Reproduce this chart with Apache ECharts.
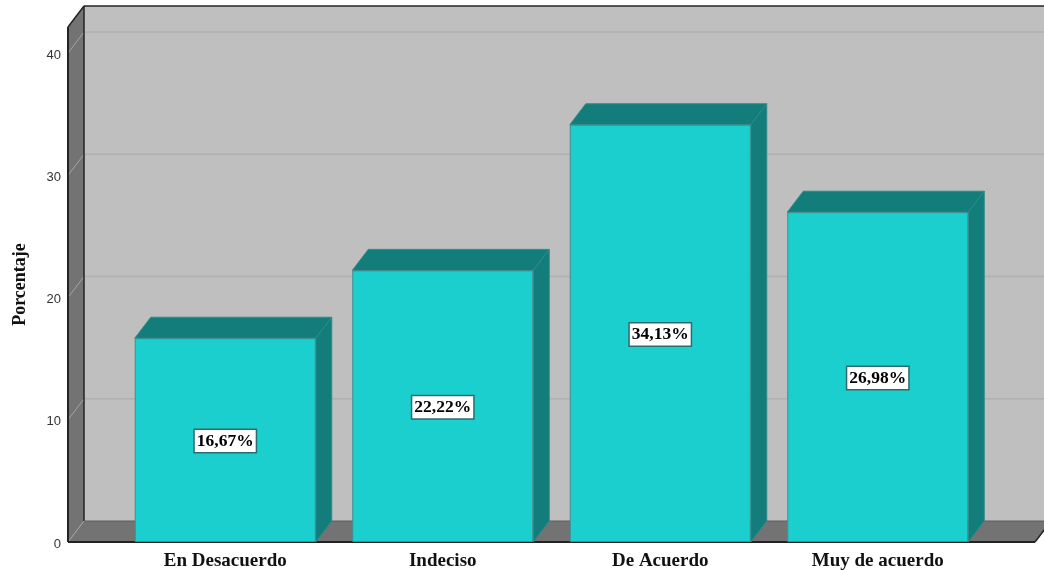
<!DOCTYPE html>
<html>
<head>
<meta charset="utf-8">
<style>html,body{margin:0;padding:0;background:#fff}#c{width:1044px;height:572px}</style>
<script src="https://cdn.jsdelivr.net/npm/echarts@6/dist/echarts.min.js"></script>
</head>
<body>
<div id="c"></div>
<script>
const categories = ['En Desacuerdo', 'Indeciso', 'De Acuerdo', 'Muy de acuerdo'];
const percentages = [16.67, 22.22, 34.13, 26.98];
const tickValues = [0, 10, 20, 30, 40];
const axisTitle = 'Porcentaje';

const DX = 16, DY = -21;
const yMax = 42.13;
const wallColor = '#bfbfbf', sideColor = '#737373', gridColor = '#b0b0b0', edgeColor = '#232323';
const barColor = '#1ccfcf', barDark = '#127d7b', barEdge = '#3f8f8f';
const barRatio = 181 / 217.5;

const chart = echarts.init(document.getElementById('c'), null, {renderer: 'canvas'});

function poly(points, fill, stroke, width) {
  return {type: 'polygon', shape: {points},
    style: {fill: fill, stroke: stroke || null, lineWidth: width || 0}};
}
function line(a, b, color, width) {
  return {type: 'line', shape: {x1: a[0], y1: a[1], x2: b[0], y2: b[1]},
    style: {stroke: color, lineWidth: width, fill: null}};
}

function renderWalls(params, api) {
  const y0 = api.coord([0, 0])[1];
  const yT = api.coord([0, yMax])[1];
  const xc0 = api.coord([0, 0])[0];
  const band = api.size([1, 0])[0];
  const xL = xc0 - band / 2 - 48.5;
  const xR = xL + 967;
  const children = [
    poly([[xL + DX, yT + DY], [xR + DX, yT + DY], [xR + DX, y0 + DY], [xL + DX, y0 + DY]], wallColor),
    poly([[xL, yT], [xL + DX, yT + DY], [xL + DX, y0 + DY], [xL, y0]], sideColor),
    poly([[xL, y0], [xL + DX, y0 + DY], [xR + DX, y0 + DY], [xR, y0]], sideColor)
  ];
  tickValues.forEach(function (t) {
    const y = api.coord([0, t])[1];
    if (t > 0) {
      children.push(line([xL + DX, y + DY], [xR + DX, y + DY], gridColor, 1.5));
    }
    children.push(line([xL, y], [xL + DX, y + DY], '#a3a3a3', 1));
  });
  children.push(
    line([xL + DX, yT + DY], [xR + DX, yT + DY], edgeColor, 1.5),
    line([xL + DX, yT + DY], [xL + DX, y0 + DY], edgeColor, 1.5),
    line([xL + DX, y0 + DY], [xR + DX, y0 + DY], '#5f5f5f', 1),
    line([xL, yT], [xL + DX, yT + DY], edgeColor, 1.5),
    line([xL, yT], [xL, y0], edgeColor, 2),
    line([xL, y0], [xR, y0], edgeColor, 2),
    line([xR, y0], [xR + DX, y0 + DY], edgeColor, 1.5)
  );
  return {type: 'group', children};
}

function renderDepth(params, api) {
  const idx = api.value(0);
  const top = api.coord([idx, api.value(1)]);
  const base = api.coord([idx, 0]);
  const half = api.size([1, 0])[0] * barRatio / 2;
  const x0 = top[0] - half, x1 = top[0] + half, yT = top[1], y0 = base[1];
  return {type: 'group', children: [
    poly([[x0, yT], [x0 + DX, yT + DY], [x1 + DX, yT + DY], [x1, yT]], barDark, '#2f8a88', 1),
    poly([[x1, yT], [x1 + DX, yT + DY], [x1 + DX, y0 + DY], [x1, y0]], barDark, '#2f8a88', 1)
  ]};
}

chart.setOption({
  animation: false,
  backgroundColor: '#ffffff',
  grid: {left: 116.5, width: 870, top: 27, height: 515},
  xAxis: {
    type: 'category',
    data: categories,
    axisLine: {show: false},
    axisTick: {show: false},
    splitLine: {show: false},
    axisLabel: {
      margin: 10,
      color: '#111',
      fontFamily: 'Liberation Serif',
      fontWeight: 'bold',
      fontSize: 19
    }
  },
  yAxis: {
    type: 'value',
    min: 0,
    max: yMax,
    interval: 10,
    offset: 48.5,
    name: axisTitle,
    nameLocation: 'middle',
    nameGap: 39,
    nameRotate: 90,
    nameTextStyle: {color: '#111', fontFamily: 'Liberation Serif', fontWeight: 'bold', fontSize: 18},
    axisLine: {show: false},
    axisTick: {show: false},
    splitLine: {show: false},
    axisLabel: {
      margin: 7,
      showMaxLabel: false,
      formatter: '{v|{value}}',
      rich: {
        v: {
          color: '#333',
          fontFamily: 'Liberation Sans',
          fontSize: 13,
          padding: [4, 0, 0, 0]
        }
      }
    }
  },
  series: [
    {
      type: 'custom',
      name: 'walls',
      silent: true,
      z: 1,
      clip: false,
      renderItem: renderWalls,
      data: [[0, 0]],
      encode: {x: 0, y: 1}
    },
    {
      type: 'custom',
      name: 'depth',
      silent: true,
      z: 2,
      clip: false,
      renderItem: renderDepth,
      data: percentages.map(function (v, i) { return [i, v]; }),
      encode: {x: 0, y: 1}
    },
    {
      type: 'bar',
      name: 'Porcentaje',
      z: 3,
      barWidth: 181,
      data: percentages,
      itemStyle: {color: barColor, borderColor: barEdge, borderWidth: 1},
      label: {
        show: true,
        position: 'inside',
        formatter: function (p) { return p.value.toFixed(2).replace('.', ',') + '%'; },
        backgroundColor: '#ffffff',
        borderColor: '#2c6c6c',
        borderWidth: 1.5,
        padding: [3, 2, 1, 2],
        color: '#000',
        fontFamily: 'Liberation Serif',
        fontWeight: 'bold',
        fontSize: 17.5,
        offset: [0, 1]
      }
    }
  ]
});
</script>
</body>
</html>
